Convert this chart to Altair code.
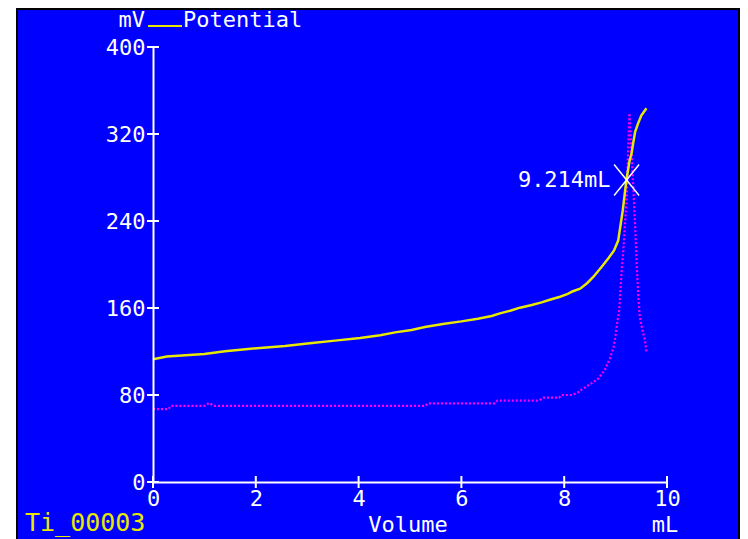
import altair as alt
import pandas as pd

# ---- data ----
vol_potential = [0, 0.27, 1.0, 1.4, 1.9, 2.57, 3.05, 3.54, 4.03, 4.42, 4.71, 5.03, 5.29,
                 5.64, 6.0, 6.32, 6.59, 6.75, 6.95, 7.14, 7.37, 7.56, 7.72, 7.92, 8.07,
                 8.17, 8.31, 8.45, 8.57, 8.73, 8.86, 8.97, 9.05, 9.14, 9.21, 9.27, 9.31,
                 9.34, 9.38, 9.44, 9.5, 9.6]
mv_potential = [112.8, 115.3, 117.7, 120.2, 122.6, 125.0, 127.5, 130.0, 132.4, 134.9, 137.6,
                139.8, 142.5, 145.3, 147.7, 150.2, 152.6, 155.1, 157.5, 160.3, 162.8, 165.2,
                167.6, 170.4, 172.9, 175.4, 177.8, 183.0, 188.8, 198.0, 205.7, 213.0, 222.0,
                250.0, 277.7, 295.0, 302.0, 311.0, 322.0, 330.0, 337.0, 343.6]

vol_deriv = [0, 0.3, 0.35, 1.0, 1.09, 1.2, 2.0, 3.0, 4.0, 5.3, 5.35, 6.65, 6.7, 7.5, 7.6,
             7.9, 7.95, 8.15, 8.27, 8.34, 8.53, 8.66, 8.79, 8.89, 8.96, 8.99, 9.03, 9.07,
             9.09, 9.12, 9.15, 9.18, 9.22, 9.24, 9.26, 9.27, 9.29, 9.33, 9.36, 9.39, 9.41,
             9.44, 9.47, 9.52, 9.57, 9.6]
mv_deriv = [67.0, 67.0, 70.0, 70.0, 72.6, 70.0, 70.0, 70.0, 70.0, 70.0, 72.3, 72.3, 74.8,
            74.8, 77.5, 77.5, 80.0, 80.0, 82.5, 85.0, 90.7, 95.0, 103.0, 113.7, 124.0, 132.0,
            146.0, 158.0, 173.5, 195.0, 213.0, 235.0, 265.0, 300.0, 325.0, 339.0, 320.0,
            285.0, 255.0, 225.0, 200.0, 172.0, 152.0, 140.0, 130.6, 120.0]

ep_volume = [9.214]
ep_mv = [277.7]
ep_label = ["9.214mL"]

x_ticks = [0, 2, 4, 6, 8, 10]
y_ticks = [0, 80, 160, 240, 320, 400]

# ---- styling ----
W, H = 514, 435
FONT = "DejaVu Sans Mono"
BLUE = "#0000FF"
YELLOW = "#E8E800"
MAGENTA = "#FF00FF"
WHITE = "#FFFFFF"

xs = alt.Scale(domain=[0, 10], nice=False, zero=False)
ys = alt.Scale(domain=[0, 400], nice=False)

x_axis = alt.Axis(values=x_ticks, title=None, domainColor=WHITE, domainWidth=2,
                  ticks=True, tickSize=0, labelColor=WHITE, labelFont=FONT,
                  labelFontSize=22, labelPadding=6, labelFlush=False, grid=False,
                  zindex=1)
y_axis = alt.Axis(values=y_ticks, title=None, domainColor=WHITE, domainWidth=2,
                  ticks=True, tickSize=0, labelColor=WHITE, labelFont=FONT,
                  labelFontSize=22, labelPadding=8, labelFlush=False, grid=False,
                  zindex=1)


def X(f):
    return alt.X(f, type="quantitative", scale=xs, axis=x_axis)


def Y(f):
    return alt.Y(f, type="quantitative", scale=ys, axis=y_axis)


one = pd.DataFrame({"a": [0]})

panel = alt.Chart(one).mark_rect(fill=BLUE, stroke="black", strokeWidth=2).encode(
    x=alt.value(-136), x2=alt.value(586), y=alt.value(-38), y2=alt.value(H + 70)
)

pot_df = pd.DataFrame({"Volume": vol_potential, "mV": mv_potential})
der_df = pd.DataFrame({"Volume": vol_deriv, "mV": mv_deriv})
ep_df = pd.DataFrame({"Volume": ep_volume, "mV": ep_mv, "label": ep_label})

deriv = alt.Chart(der_df).mark_line(color=MAGENTA, strokeWidth=2.2, strokeDash=[2, 2]).encode(
    x=X("Volume"), y=Y("mV")
)
potential = alt.Chart(pot_df).mark_line(color=YELLOW, strokeWidth=2.5).encode(
    x=X("Volume"), y=Y("mV")
)

ytick_rules = alt.Chart(pd.DataFrame({"t": y_ticks})).mark_rule(color=WHITE, strokeWidth=2).encode(
    y=Y("t"), x=alt.value(-6), x2=alt.value(6)
)
xtick_rules = alt.Chart(pd.DataFrame({"t": x_ticks})).mark_rule(color=WHITE, strokeWidth=2).encode(
    x=X("t"), y=alt.value(H - 6), y2=alt.value(H + 6)
)

ep_mark = alt.Chart(ep_df).mark_point(
    shape="M-1,-1.24L1,1.24M-1,1.24L1,-1.24", filled=False, stroke=WHITE,
    strokeWidth=1.5, size=625, opacity=1
).encode(x=X("Volume"), y=Y("mV"))
ep_text = alt.Chart(ep_df).mark_text(
    align="right", baseline="middle", dx=-16, font=FONT, fontSize=22, color=WHITE
).encode(x=X("Volume"), y=Y("mV"), text="label:N")


def label(txt, x, y, align, color=WHITE, size=22):
    return alt.Chart(one).mark_text(
        align=align, baseline="middle", font=FONT, fontSize=size, color=color
    ).encode(x=alt.value(x), y=alt.value(y), text=alt.value(txt))


legend_line = alt.Chart(one).mark_rule(color=YELLOW, strokeWidth=2).encode(
    x=alt.value(-5), x2=alt.value(29), y=alt.value(-21)
)

chart = alt.layer(
    panel,
    deriv,
    potential,
    ytick_rules,
    xtick_rules,
    ep_mark,
    ep_text,
    label("mV", -8, -27, "right"),
    legend_line,
    label("Potential", 30, -27, "left"),
    label("Volume", 255, 478, "center"),
    label("mL", 512, 478, "center"),
    label("Ti_00003", -128, 476, "left", YELLOW, 25),
).properties(
    width=W, height=H,
    autosize=alt.AutoSizeParams(type="none"),
    padding={"left": 145, "top": 39, "right": 73, "bottom": 57},
    background="#FFFFFF",
).configure_view(strokeWidth=0)

chart.save("out.html", embed_options={"renderer": "svg", "actions": False})
